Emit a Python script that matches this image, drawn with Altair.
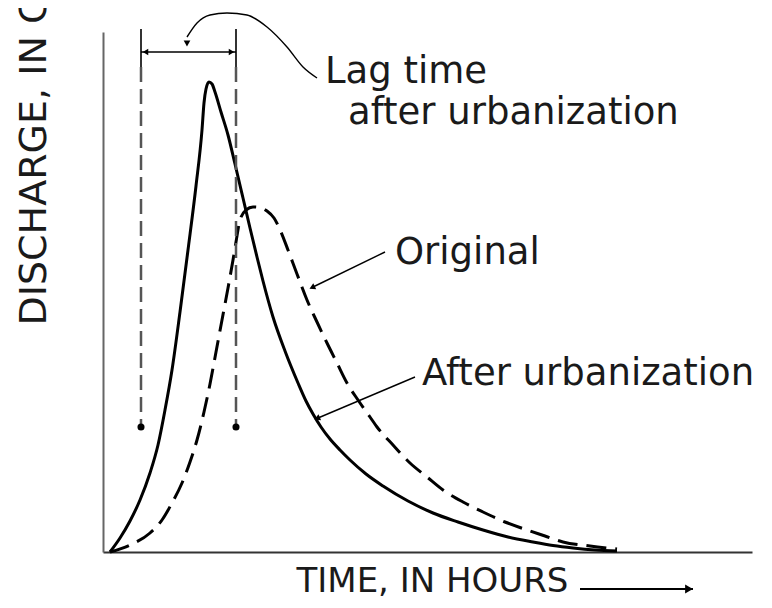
import altair as alt
import pandas as pd

# ---------------- data (time in hours, discharge in arbitrary units) ----------------
urban_time = [0, 1, 2, 3, 4, 4.8, 5.5, 6.2, 7.0, 7.8, 8.6, 9.2, 9.4, 9.6, 9.9,
              10.2, 10.5, 11.1, 11.8, 12.5, 13.3, 14.0, 14.7, 15.3, 16.3, 17.5, 18.8,
              19.6, 20.3, 21.1, 22.0, 23.0, 24.0, 25.6, 27.3, 29.8, 32.3, 34.8, 37.3,
              39.8, 42.3, 44.3, 46.3, 48.5, 50.7]
urban_q = [0, 1.4, 3.1, 5.2, 7.9, 10.7, 14.2, 18.2, 24.0, 30.2, 36.6, 42.2, 44.9, 46.3,
           47.0, 46.8, 46.0, 44.0, 41.7, 38.8, 35.4, 32.4, 29.5, 27.1, 23.5, 20.1, 16.9,
           15.1, 13.8, 12.5, 11.3, 10.2, 9.2, 7.8, 6.6, 5.1, 3.9, 3.0, 2.2,
           1.5, 1.0, 0.65, 0.4, 0.2, 0.1]

orig_time = [0, 2, 4, 5.2, 6.2, 7.2, 8.0, 8.7, 9.4, 10.0, 10.6, 11.2, 11.8, 12.3, 12.6,
             13.0, 13.6, 14.3, 15.0, 15.7, 16.4, 17.1, 17.8, 18.7, 19.7, 20.7, 21.7,
             22.7, 23.7, 24.8, 26.0, 26.7, 28.3, 30.0, 31.7, 33.3, 35.3, 37.3, 39.5,
             41.7, 43.5, 45.3, 48.0, 50.7]
orig_q = [0, 0.7, 1.9, 3.2, 4.9, 6.9, 9.0, 11.2, 14.0, 16.8, 20.0, 23.2, 26.4, 29.2, 31.0,
          33.2, 34.2, 34.5, 34.45, 34.1, 33.4, 32.0, 30.2, 27.8, 25.2, 23.0, 20.9, 18.9,
          16.9, 15.2, 13.5, 12.5, 10.7, 8.9, 7.5, 6.2, 5.0, 4.0, 3.0, 2.2, 1.6, 1.0, 0.6,
          0.3]

# lag-time markers
lag_times = [3.1, 12.6]
lag_top = 52.3
lag_tick_bottom = 48.5
lag_dash_bottom = 12.5
lag_bar_q = 50.0

# leader from lag bracket to its label
leader_time = [7.7, 8.7, 10.0, 11.7, 13.7, 15.7, 17.7, 19.3, 20.7]
leader_q = [51.5, 52.9, 53.7, 53.9, 53.7, 52.5, 50.5, 48.5, 47.4]

# labels
label_text = ["Lag time", "after urbanization", "Original", "After urbanization"]
label_time = [21.5, 23.8, 28.5, 31.2]
label_q = [46.9, 42.8, 28.8, 16.7]

# pointer arrows for the curve labels (start -> tip)
ptr_t1 = [27.5, 30.5]
ptr_q1 = [30.0, 17.5]
ptr_t2 = [20.3, 20.8]
ptr_q2 = [26.5, 13.4]
ptr_angle = [244, 247]

# time-axis arrow
time_arrow_t = [47.0, 58.3]
time_arrow_q = -3.7

X_DOMAIN = [-0.7, 64.2]
Y_DOMAIN = [0, 52]
FONT = "DejaVu Sans"
INK = "#1a1a1a"

xs = alt.Scale(domain=X_DOMAIN, nice=False, zero=False)
ys = alt.Scale(domain=Y_DOMAIN, nice=False, zero=False)

urban_df = pd.DataFrame({"t": urban_time, "q": urban_q, "i": range(len(urban_time))})
orig_df = pd.DataFrame({"t": orig_time, "q": orig_q, "i": range(len(orig_time))})
leader_df = pd.DataFrame({"t": leader_time, "q": leader_q, "i": range(len(leader_time))})
lbl_df = pd.DataFrame({"t": label_time, "q": label_q, "txt": label_text})
tick_df = pd.DataFrame({"t": lag_times, "q": [lag_top] * 2, "q2": [lag_tick_bottom] * 2})
dash_df = pd.DataFrame({"t": lag_times, "q": [lag_tick_bottom] * 2, "q2": [lag_dash_bottom] * 2})
dot_df = pd.DataFrame({"t": lag_times, "q": [lag_dash_bottom] * 2})
bar_df = pd.DataFrame({"t": [lag_times[0]], "t2": [lag_times[1]], "q": [lag_bar_q]})
bar_heads = pd.DataFrame({"t": [lag_times[0] + 0.45, lag_times[1] - 0.45],
                          "q": [lag_bar_q] * 2, "shape": ["triangle-left", "triangle-right"]})
ptr_df = pd.DataFrame({"t": ptr_t1, "q": ptr_q1, "t2": ptr_t2, "q2": ptr_q2, "a": ptr_angle})
tarrow_df = pd.DataFrame({"t": [time_arrow_t[0]], "t2": [time_arrow_t[1]], "q": [time_arrow_q]})
tarrow_head = pd.DataFrame({"t": [time_arrow_t[1] - 0.4], "q": [time_arrow_q]})
leader_head = pd.DataFrame({"t": [leader_time[0]], "q": [lag_bar_q + 0.85]})

x_axis = alt.Axis(domain=True, domainColor="#333", domainWidth=2, ticks=False, labels=False,
                  grid=False, title="TIME, IN HOURS", titleX=193, titleY=39,
                  titleAlign="left", titleBaseline="alphabetic", titleFont=FONT,
                  titleFontSize=34, titleFontWeight="normal", titleColor=INK, titleLimit=2000)
y_axis = alt.Axis(domain=True, domainColor="#666", domainWidth=2, ticks=False, labels=False,
                  grid=False, title="DISCHARGE, IN CUBIC FEET PER SECOND", titleAngle=270,
                  titleX=-58, titleY=293, titleAlign="left", titleBaseline="alphabetic",
                  titleFont=FONT, titleFontSize=38, titleFontWeight="normal",
                  titleColor=INK, titleLimit=3000)

X = lambda f: alt.X(f, scale=xs)
Y = lambda f: alt.Y(f, scale=ys)

urban = alt.Chart(urban_df).mark_line(color="black", strokeWidth=3, interpolate="monotone").encode(
    x=alt.X("t:Q", scale=xs, axis=x_axis),
    y=alt.Y("q:Q", scale=ys, axis=y_axis),
    order="i:Q",
)
orig = alt.Chart(orig_df).mark_line(color="black", strokeWidth=3, strokeDash=[20, 9],
                                    interpolate="monotone").encode(
    x=X("t:Q"), y=Y("q:Q"), order="i:Q")
ticks = alt.Chart(tick_df).mark_rule(color="#333", strokeWidth=2).encode(
    x=X("t:Q"), y=Y("q:Q"), y2="q2:Q")
dashes = alt.Chart(dash_df).mark_rule(color="#555", strokeWidth=2.5, strokeDash=[15, 7]).encode(
    x=X("t:Q"), y=Y("q:Q"), y2="q2:Q")
dots = alt.Chart(dot_df).mark_circle(color="black", size=50, opacity=1).encode(
    x=X("t:Q"), y=Y("q:Q"))
bar = alt.Chart(bar_df).mark_rule(color="black", strokeWidth=1.5).encode(
    x=X("t:Q"), x2="t2:Q", y=Y("q:Q"))
heads = alt.Chart(bar_heads).mark_point(filled=True, color="black", size=40, opacity=1).encode(
    x=X("t:Q"), y=Y("q:Q"), shape=alt.Shape("shape:N", scale=None, legend=None))
leader = alt.Chart(leader_df).mark_line(color="black", strokeWidth=1.4, interpolate="monotone").encode(
    x=X("t:Q"), y=Y("q:Q"), order="i:Q")
lhead = alt.Chart(leader_head).mark_point(filled=True, color="black", size=45, shape="triangle-down",
                                          opacity=1).encode(x=X("t:Q"), y=Y("q:Q"))
labels = alt.Chart(lbl_df).mark_text(font=FONT, fontSize=37, color=INK, align="left",
                                     baseline="alphabetic").encode(
    x=X("t:Q"), y=Y("q:Q"), text="txt:N")
ptrs = alt.Chart(ptr_df).mark_rule(color="black", strokeWidth=1.4).encode(
    x=X("t:Q"), y=Y("q:Q"), x2="t2:Q", y2="q2:Q")
ptr_heads = alt.Chart(ptr_df).mark_point(filled=True, color="black", size=45, shape="triangle",
                                         opacity=1).encode(
    x=X("t2:Q"), y=Y("q2:Q"), angle=alt.Angle("a:Q", scale=None))
tarrow = alt.Chart(tarrow_df).mark_rule(color="black", strokeWidth=2).encode(
    x=X("t:Q"), x2="t2:Q", y=Y("q:Q"))
thead = alt.Chart(tarrow_head).mark_point(filled=True, color="black", size=80, shape="triangle-right",
                                          opacity=1).encode(x=X("t:Q"), y=Y("q:Q"))

chart = alt.layer(
    urban, orig, ticks, dashes, dots, bar, heads, leader, lhead, labels, ptrs, ptr_heads,
    tarrow, thead
).properties(
    width=649, height=520,
    autosize=alt.AutoSizeParams(type="none"),
    padding={"left": 95, "top": 24, "right": 10, "bottom": 48},
    background="white",
).configure_view(stroke=None)

chart.save("out.html", embed_options={"renderer": "svg", "actions": False})
